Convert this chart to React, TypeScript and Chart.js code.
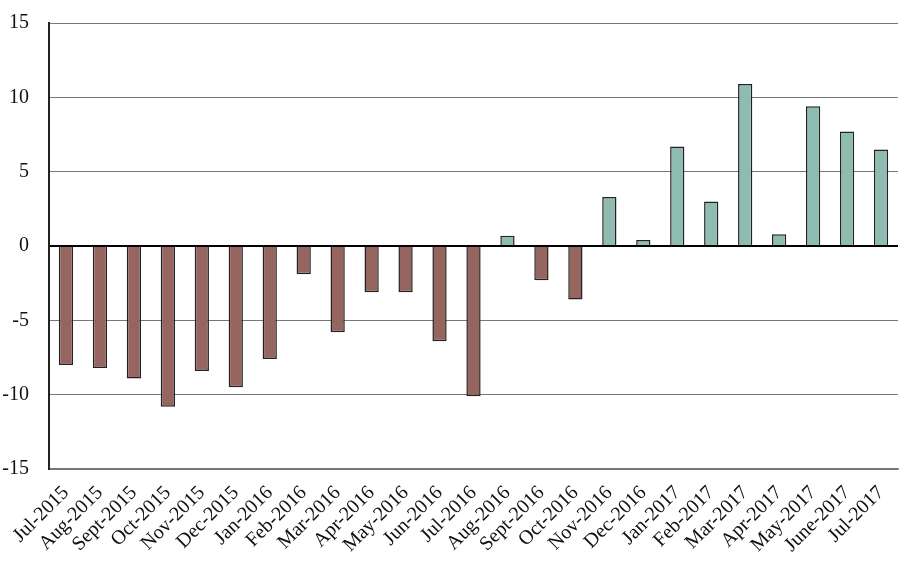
import { useEffect, useRef } from "react"
import { Chart, registerables } from "chart.js"

Chart.register(...registerables)

const months = [
  "Jul-2015", "Aug-2015", "Sept-2015", "Oct-2015", "Nov-2015", "Dec-2015",
  "Jan-2016", "Feb-2016", "Mar-2016", "Apr-2016", "May-2016", "Jun-2016",
  "Jul-2016", "Aug-2016", "Sept-2016", "Oct-2016", "Nov-2016", "Dec-2016",
  "Jan-2017", "Feb-2017", "Mar-2017", "Apr-2017", "May-2017", "June-2017",
  "Jul-2017",
]

const values = [
  -8.0, -8.2, -8.9, -10.8, -8.4, -9.5, -7.6, -1.9, -5.8, -3.1, -3.1, -6.4,
  -10.1, 0.7, -2.3, -3.6, 3.3, 0.4, 6.7, 3.0, 10.9, 0.8, 9.4, 7.7, 6.5,
]

const yTicks = [-15, -10, -5, 0, 5, 10, 15]

const NEG_COLOR = "#966560"
const POS_COLOR = "#8fbcb0"

export default function App() {
  const chartRef = useRef<HTMLCanvasElement>(null)
  const chartInstance = useRef<Chart | null>(null)

  useEffect(() => {
    if (!chartRef.current) return
    const ctx = chartRef.current.getContext("2d")
    if (!ctx) return

    chartInstance.current = new Chart(ctx, {
      type: "bar",
      data: {
        labels: months,
        datasets: [
          {
            data: values,
            backgroundColor: values.map((v) => (v < 0 ? NEG_COLOR : POS_COLOR)),
            borderColor: "#222",
            borderWidth: 1.5,
            barPercentage: 0.42,
            categoryPercentage: 1,
          },
        ],
      },
      options: {
        animation: false,
        responsive: true,
        maintainAspectRatio: false,
        layout: { padding: { left: 2, right: 22, top: 23, bottom: 6 } },
        plugins: {
          legend: { display: false },
          tooltip: { enabled: false },
        },
        scales: {
          x: {
            grid: { display: false, drawTicks: false },
            border: { display: true, color: "#777", width: 1.5 },
            afterFit: (scale) => {
              // rotated labels should not push the plot area inwards
              scale.paddingLeft = 0
              scale.paddingRight = 0
            },
            ticks: {
              color: "#111",
              maxRotation: 45,
              minRotation: 45,
              autoSkip: false,
              padding: 12,
              font: { family: "Liberation Serif", size: 20 },
            },
          },
          y: {
            min: -15,
            max: 15,
            afterBuildTicks: (axis) => {
              axis.ticks = yTicks.map((v) => ({ value: v }))
            },
            afterFit: (scale) => {
              // fixed axis width, labels sit 20px left of the axis line
              scale.width = 47
              scale.paddingTop = 0
              scale.paddingBottom = 0
            },
            grid: {
              drawTicks: false,
              color: (c) => (c.tick && c.tick.value === 0 ? "#000" : "#777"),
              lineWidth: (c) => (c.tick && c.tick.value === 0 ? 2 : 1),
            },
            border: { display: true, color: "#222", width: 2 },
            ticks: {
              color: "#111",
              padding: 20,
              font: { family: "Liberation Serif", size: 20 },
            },
          },
        },
      },
    })

    return () => {
      if (chartInstance.current) {
        chartInstance.current.destroy()
      }
    }
  }, [])

  return (
    <div style={{ position: "absolute", left: 0, top: 0, width: 920, height: 575, background: "#fff" }}>
      <canvas ref={chartRef} />
    </div>
  )
}
